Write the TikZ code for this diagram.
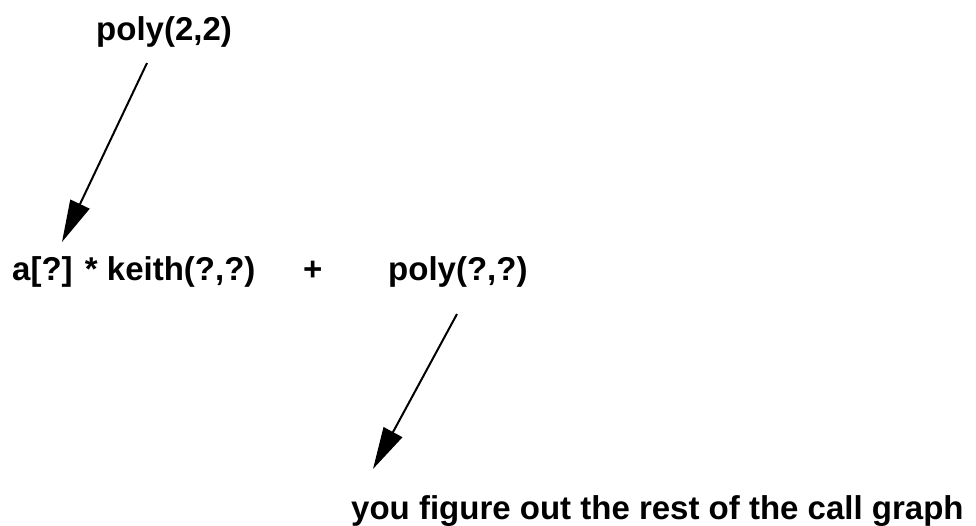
\documentclass[tikz,border=0pt]{standalone}
\usepackage{fontspec}
\setmainfont{Liberation Sans}
\usetikzlibrary{arrows.meta}
\begin{document}
\begin{tikzpicture}[x=1pt,y=-1pt,
  lbl/.style={inner sep=0pt,anchor=base west,font=\fontsize{33}{39}\selectfont\bfseries},
  arr/.style={line width=2pt,-{Triangle[length=42pt,width=21pt]}}]
\useasboundingbox (0,0) rectangle (976,525);
\node[lbl] (top) at (96,40) {poly(2,2)};
\node[lbl] (left) at (12,280) {a[?] * keith(?,?)};
\node[lbl] (plus) at (303,280) {+};
\node[lbl] (right) at (388,280) {poly(?,?)};
\node[lbl] (bottom) at (351,519) {you figure out the rest of the call graph};
\coordinate (s1) at (147,63);
\coordinate (t1) at (62,242);
\coordinate (s2) at (457,314);
\coordinate (t2) at (373,469);
\draw[arr] (s1) -- (t1);
\draw[arr] (s2) -- (t2);
\end{tikzpicture}
\end{document}
